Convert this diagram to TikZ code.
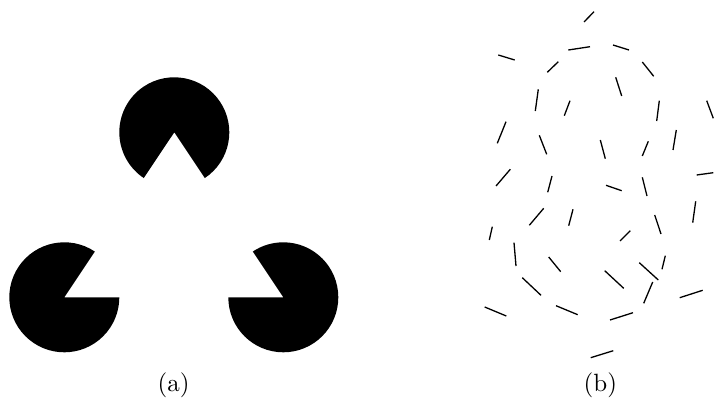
\documentclass[tikz,border=0pt]{standalone}
\usepackage{fontspec}
\newfontfamily\labfont{lmroman10-regular.otf}
\newcommand{\biglab}{\labfont\fontsize{25}{30}\selectfont}
\begin{document}
\begin{tikzpicture}[x=1pt,y=1pt,
  pac/.style={fill=black},
  seg/.style={line width=1.3pt,black},
  lab/.style={inner sep=0pt}]
\useasboundingbox (0,0) rectangle (714,399);
% panel (a): Kanizsa triangle inducers (y = 399 - pixel row)
\fill[pac] (174.3,266.7) -- ++(303.7:55) arc[start angle=303.7,end angle=596.3,radius=55] -- cycle;
\fill[pac] (64.3,101.7) -- ++(56.3:55) arc[start angle=56.3,end angle=360,radius=55] -- cycle;
\fill[pac] (283.3,101.7) -- ++(180:55) arc[start angle=180,end angle=483.7,radius=55] -- cycle;
\node[lab] (la) at (173.5,13.5) {\biglab (a)};
% panel (b): oriented segments
\foreach \xa/\ya/\xb/\yb in {
 584/22/594/11.7, 498.3/55/514.7/60, 568.3/50/590/46.7, 613/45/629/50,
 547.3/72.3/558.3/61.7, 642.3/62/653.7/76.3, 615.7/77.3/621.7/96,
 538.3/89.3/535.3/111, 570/100.7/564.3/115.7, 659.3/100.7/656.7/121,
 706.7/100.7/713.3/118.3, 506/121.7/497.3/143.3, 539.3/135.3/546.7/154.3,
 600.3/140/605.3/158.7, 648.3/141.3/642.3/156, 676.3/130/673/150,
 510.3/169.3/496/186, 552/176/547.7/192.3, 606/185.3/621.7/190.7,
 642.3/177.3/647/196, 696.7/175/713.3/172.7,
 543.7/208.3/529.3/225.3, 573/209.3/568.7/225.7, 695.7/201.3/692.7/222.7,
 492.3/226.7/489.3/240, 654.7/215/661/234, 630.3/230.7/620/241,
 514/242.7/516/266, 548.7/257/560.7/271.7, 665.3/255.7/662/269.3,
 639.3/262.7/658.3/280, 604.7/270.7/623.7/288.3, 522.3/277.7/541/295.3,
 652.7/282/643.7/303.3, 702.7/290.3/679.7/297.7, 484.7/307/506.3/316,
 556/305.7/577.7/314.7, 633/312.7/610/320, 613.3/350.7/590.7/357.7}
 \draw[seg] (\xa,399-\ya) -- (\xb,399-\yb);
\node[lab] (lb) at (600.3,13.5) {\biglab (b)};
\end{tikzpicture}
\end{document}
